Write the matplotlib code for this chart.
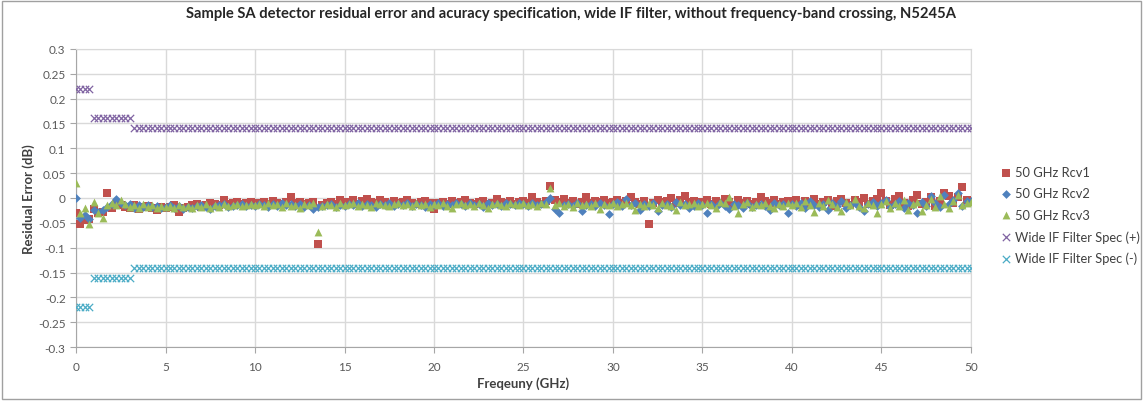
import numpy as np
import matplotlib
matplotlib.use("Agg")
import matplotlib.pyplot as plt
from matplotlib.patches import Rectangle
from matplotlib.ticker import MultipleLocator, FuncFormatter

plt.rcParams['font.family'] = ['Lato', 'DejaVu Sans']

# frequency points, 0.25 GHz step
freq = [i * 0.25 for i in range(201)]

rcv1 = [
    -0.030, -0.052, -0.045, -0.043, -0.022, -0.030, -0.028, 0.010, -0.020, -0.012, -0.015, -0.018, -0.020, -0.015, -0.022, -0.018, -0.016, -0.020, -0.025, -0.018,
    -0.020, -0.018, -0.015, -0.028, -0.020, -0.018, -0.015, -0.012, -0.018, -0.015, -0.010, -0.012, -0.015, -0.005, -0.012, -0.010, -0.008, -0.012, -0.010, -0.008,
    -0.012, -0.010, -0.008, -0.012, -0.006, -0.010, -0.012, -0.008, 0.002, -0.010, -0.008, -0.012, -0.010, -0.008, -0.092, -0.015, -0.010, -0.008, -0.012, -0.005,
    -0.008, -0.010, -0.004, -0.012, -0.006, -0.002, -0.008, -0.010, -0.005, -0.008, -0.012, -0.006, -0.010, -0.008, -0.004, -0.010, -0.012, -0.008, -0.006, -0.010,
    -0.022, -0.010, -0.008, -0.012, -0.006, -0.010, -0.008, -0.004, -0.010, -0.012, -0.008, -0.006, -0.012, -0.010, -0.002, -0.008, -0.010, -0.006, -0.012, -0.008,
    -0.006, -0.010, 0.002, -0.008, -0.012, -0.006, 0.025, -0.004, -0.008, -0.002, -0.010, -0.006, -0.012, -0.008, 0.002, -0.010, -0.006, -0.008, -0.004, -0.010,
    -0.008, -0.004, -0.010, -0.006, 0.002, -0.008, -0.012, -0.006, -0.053, -0.010, -0.004, -0.008, -0.006, 0.000, -0.010, -0.004, 0.004, -0.008, -0.006, -0.010,
    -0.008, -0.004, -0.012, -0.006, -0.010, -0.002, -0.008, -0.014, -0.004, -0.010, -0.006, -0.012, -0.008, 0.002, -0.006, -0.010, -0.004, -0.012, -0.008, -0.006,
    -0.010, -0.004, -0.014, -0.006, -0.010, -0.002, -0.012, -0.008, -0.004, -0.016, -0.006, -0.002, -0.010, -0.014, -0.004, -0.008, 0.000, -0.012, -0.006, -0.002,
    0.010, -0.006, -0.014, -0.002, 0.004, -0.010, -0.016, -0.004, 0.006, -0.012, -0.008, 0.002, -0.016, -0.006, 0.010, 0.004, -0.010, 0.002, 0.022, -0.004,
    -0.008,
]

rcv2 = [
    0.000, -0.040, -0.035, -0.043, -0.025, -0.028, -0.025, -0.018, -0.012, -0.002, -0.010, -0.015, -0.012, -0.020, -0.015, -0.018, -0.014, -0.018, -0.016, -0.020,
    -0.018, -0.015, -0.020, -0.016, -0.022, -0.018, -0.020, -0.016, -0.014, -0.018, -0.022, -0.016, -0.014, -0.012, -0.018, -0.016, -0.014, -0.012, -0.016, -0.014,
    -0.016, -0.012, -0.014, -0.018, -0.012, -0.016, -0.010, -0.014, -0.012, -0.016, -0.012, -0.018, -0.014, -0.022, -0.018, -0.016, -0.014, -0.012, -0.018, -0.014,
    -0.016, -0.012, -0.014, -0.010, -0.016, -0.012, -0.014, -0.018, -0.012, -0.014, -0.010, -0.016, -0.012, -0.014, -0.010, -0.016, -0.012, -0.014, -0.018, -0.012,
    -0.014, -0.010, -0.016, -0.012, -0.014, -0.010, -0.012, -0.016, -0.010, -0.014, -0.012, -0.018, -0.010, -0.014, -0.012, -0.016, -0.010, -0.012, -0.014, -0.010,
    -0.012, -0.016, -0.010, -0.014, -0.012, -0.008, 0.000, -0.022, -0.030, -0.014, -0.012, -0.016, -0.010, -0.026, -0.014, -0.012, -0.016, -0.010, -0.014, -0.032,
    -0.012, -0.008, -0.016, -0.002, -0.014, -0.010, -0.024, -0.012, -0.016, -0.010, -0.026, -0.014, -0.012, -0.018, -0.008, -0.014, -0.012, -0.020, -0.016, -0.010,
    -0.014, -0.030, -0.012, -0.018, -0.010, -0.016, -0.022, -0.012, -0.014, -0.020, -0.010, -0.018, -0.014, -0.012, -0.016, -0.024, -0.010, -0.014, -0.012, -0.030,
    -0.012, -0.016, -0.010, -0.020, -0.006, -0.014, -0.018, -0.012, -0.024, -0.010, -0.016, -0.006, -0.020, -0.014, -0.010, -0.018, -0.026, -0.012, -0.008, -0.016,
    -0.010, -0.004, -0.018, -0.012, -0.006, -0.020, -0.010, -0.014, -0.030, -0.008, -0.016, 0.004, -0.010, -0.018, 0.006, -0.012, -0.004, 0.010, -0.016, -0.006,
    -0.006,
]

rcv3 = [
    0.030, -0.030, -0.020, -0.053, -0.008, -0.030, -0.040, -0.015, -0.010, -0.015, -0.005, -0.012, -0.018, -0.015, -0.020, -0.012, -0.018, -0.014, -0.020, -0.016,
    -0.018, -0.016, -0.020, -0.014, -0.018, -0.016, -0.020, -0.015, -0.018, -0.012, -0.020, -0.014, -0.018, -0.012, -0.016, -0.014, -0.012, -0.016, -0.014, -0.012,
    -0.014, -0.012, -0.016, -0.010, -0.014, -0.012, -0.018, -0.010, -0.016, -0.014, -0.020, -0.012, -0.014, -0.010, -0.068, -0.016, -0.012, -0.014, -0.018, -0.010,
    -0.014, -0.012, -0.010, -0.016, -0.012, -0.014, -0.018, -0.010, -0.012, -0.014, -0.016, -0.012, -0.010, -0.014, -0.012, -0.016, -0.010, -0.014, -0.012, -0.018,
    -0.012, -0.014, -0.010, -0.016, -0.020, -0.012, -0.010, -0.014, -0.012, -0.016, -0.010, -0.014, -0.020, -0.012, -0.010, -0.014, -0.016, -0.010, -0.012, -0.014,
    -0.010, -0.014, -0.012, -0.016, -0.010, -0.012, 0.020, -0.014, -0.010, -0.016, -0.012, -0.018, -0.010, -0.014, -0.012, -0.016, -0.010, -0.022, -0.012, -0.014,
    -0.010, -0.016, -0.012, -0.010, -0.014, -0.024, -0.012, -0.016, -0.010, -0.014, -0.020, -0.010, -0.014, -0.016, -0.024, -0.008, -0.014, -0.012, -0.010, -0.016,
    -0.012, -0.010, -0.014, -0.020, -0.008, -0.010, 0.002, -0.016, -0.030, -0.012, -0.008, -0.018, -0.012, -0.014, -0.010, -0.016, -0.020, -0.012, -0.016, -0.010,
    -0.014, -0.010, -0.018, -0.006, -0.014, -0.028, -0.010, -0.016, -0.004, -0.012, -0.018, -0.026, -0.008, -0.014, -0.002, -0.016, -0.020, -0.010, -0.014, -0.030,
    -0.012, -0.006, -0.020, -0.010, -0.016, -0.004, -0.024, -0.012, -0.008, -0.026, -0.014, -0.002, -0.018, 0.004, -0.012, -0.020, -0.006, 0.006, -0.014, -0.010,
    -0.008,
]

# accuracy spec, step function over frequency
spec_plus = [0.22] * 4 + [0.16] * 9 + [0.14] * 188
spec_minus = [-0.22] * 4 + [-0.16] * 9 + [-0.14] * 188

fig = plt.figure(figsize=(11.43, 4.02), dpi=100)
ax = fig.add_axes([0.0665, 0.134, 0.783, 0.742])

ax.scatter(freq, rcv1, marker='s', s=28, color='#C0504D', label='50 GHz Rcv1', zorder=3, linewidths=0)
ax.scatter(freq, rcv2, marker='D', s=20, color='#4F81BD', label='50 GHz Rcv2', zorder=3, linewidths=0)
ax.scatter(freq, rcv3, marker='^', s=32, color='#9BBB59', label='50 GHz Rcv3', zorder=3, linewidths=0)
ax.scatter(freq, spec_plus, marker='x', s=28, color='#8064A2', label='Wide IF Filter Spec (+)', zorder=3, linewidths=0.9)
ax.scatter(freq, spec_minus, marker='x', s=28, color='#4BACC6', label='Wide IF Filter Spec (-)', zorder=3, linewidths=0.9)

ax.set_xlim(0, 50)
ax.set_ylim(-0.3, 0.3)
ax.xaxis.set_major_locator(MultipleLocator(5))
ax.yaxis.set_major_locator(MultipleLocator(0.05))
ax.yaxis.set_major_formatter(FuncFormatter(lambda v, p: '0' if abs(v) < 1e-9 else f'{v:g}'))
ax.grid(True, color='#D9D9D9', linewidth=1)
ax.set_axisbelow(True)
for s in ax.spines.values():
    s.set_color('#D9D9D9')
ax.spines['left'].set_color('#A6A6A6')
ax.spines['bottom'].set_color('#A6A6A6')
ax.tick_params(axis='both', labelsize=8.5, colors='#595959', length=4, color='#A6A6A6')
ax.tick_params(axis='x', pad=6)

ax.set_xlabel('Freqeuny (GHz)', fontsize=9.5, fontweight='bold', color='#404040', labelpad=3)
ax.set_ylabel('Residual Error (dB)', fontsize=9.5, fontweight='bold', color='#404040', labelpad=2)
fig.text(0.5, 0.965, 'Sample SA detector residual error and acuracy specification, wide IF filter, without frequency-band crossing, N5245A',
         ha='center', va='center', fontsize=10.6, fontweight='bold', color='#262626')

fig.legend(loc='upper left', bbox_to_anchor=(0.869, 0.597), frameon=False, fontsize=9.3,
           handletextpad=0.1, labelspacing=0.72, borderaxespad=0, handlelength=1.2,
           labelcolor='#404040')

fig.patches.append(Rectangle((0.002, 0.004), 0.996, 0.992, transform=fig.transFigure,
                             fill=False, edgecolor='#A0A0A0', linewidth=1))

fig.savefig('out.png', dpi=100)
